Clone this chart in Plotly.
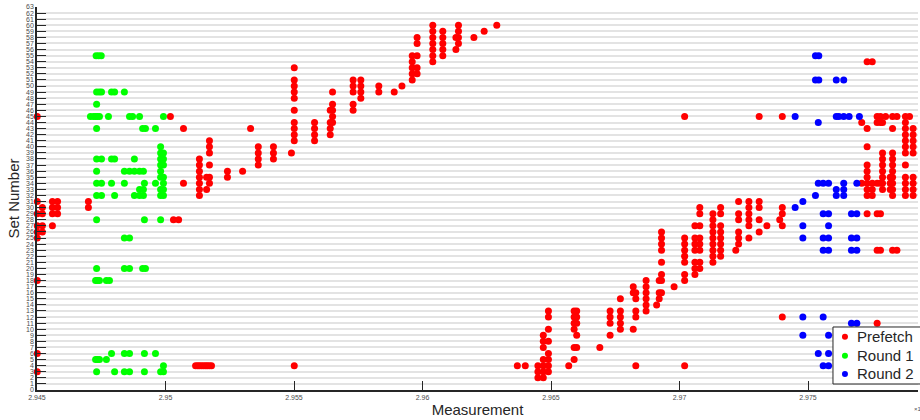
import plotly.graph_objects as go

# Prefetch hits: (measurement, [set numbers hit at that measurement])
prefetch_cols = [
    (2.94501, [45, 31, 29, 27, 26, 25, 18, 6, 3]),
    (2.94521, [30, 29, 27, 26]),
    (2.94560, [31, 30, 29, 27]),
    (2.94580, [31, 30, 29]),
    (2.94700, [31, 30]),
    (2.95019, [45]),
    (2.95031, [28]),
    (2.95051, [28]),
    (2.95070, [43, 34]),
    (2.95117, [4]),
    (2.95125, [4]),
    (2.95132, [38, 37, 36, 35, 34, 33, 32, 4]),
    (2.95140, [4]),
    (2.95148, [4]),
    (2.95156, [4]),
    (2.95160, [35, 33]),
    (2.95163, [4]),
    (2.95171, [41, 40, 39, 37, 35, 34, 4]),
    (2.95179, [4]),
    (2.95241, [36, 35]),
    (2.95300, [36]),
    (2.95331, [43]),
    (2.95361, [40, 39, 38, 37]),
    (2.95420, [40, 39, 38]),
    (2.95490, [39]),
    (2.95501, [53, 51, 50, 49, 48, 46, 44, 43, 42, 41, 4]),
    (2.95580, [44, 43, 42, 41]),
    (2.95641, [46, 44, 43, 42]),
    (2.95650, [49, 47, 46, 45, 44]),
    (2.95730, [51, 50, 49, 47, 46]),
    (2.95760, [51, 50, 49, 48]),
    (2.95830, [50, 49]),
    (2.95890, [49]),
    (2.95920, [50]),
    (2.95960, [55, 54, 53, 52, 51]),
    (2.95979, [58, 57, 55, 53, 52]),
    (2.96040, [60, 59, 58, 57, 56, 55, 54]),
    (2.96079, [59, 58, 57, 56, 55]),
    (2.96130, [58, 56]),
    (2.96140, [60, 59, 58, 57]),
    (2.96200, [58]),
    (2.96240, [59]),
    (2.96289, [60]),
    (2.96369, [4]),
    (2.96400, [4]),
    (2.96449, [4, 3, 2]),
    (2.96470, [9, 8, 7, 5, 4, 3, 2]),
    (2.96490, [13, 12, 10, 8, 6, 5, 4, 3]),
    (2.96569, [4]),
    (2.96590, [13, 12, 11, 10, 7, 5]),
    (2.96600, [13, 12, 11, 9, 7]),
    (2.96690, [7]),
    (2.96730, [13, 12, 11, 9]),
    (2.96770, [15, 13, 12, 11, 10]),
    (2.96820, [17, 16, 10]),
    (2.96830, [16, 15, 13, 12, 4]),
    (2.96870, [18, 17, 16, 15, 14, 13]),
    (2.96911, [14]),
    (2.96921, [18, 16, 15]),
    (2.96930, [26, 25, 24, 23, 21, 19, 18, 16]),
    (2.96979, [17]),
    (2.97020, [45, 25, 24, 23, 22, 21, 19, 18, 4]),
    (2.97060, [27, 25, 24, 23, 21, 20, 19]),
    (2.97079, [30, 29, 27, 25, 24, 23, 21, 20]),
    (2.97130, [29, 28, 27, 26, 25, 24, 23, 22, 21]),
    (2.97160, [30, 29, 27, 26, 25, 24, 23, 22]),
    (2.97219, [23]),
    (2.97230, [31, 29, 28, 26, 25, 24]),
    (2.97270, [31, 30, 29, 28, 27, 25]),
    (2.97310, [45, 31, 30, 28, 26]),
    (2.97340, [27]),
    (2.97390, [28]),
    (2.97400, [45, 30, 29, 27, 12]),
    (2.97709, [44, 34]),
    (2.97730, [54, 43, 40, 37, 36, 35, 34, 33, 32, 29]),
    (2.97750, [54, 34, 33, 32]),
    (2.97769, [45, 44, 34, 29, 23, 11]),
    (2.97782, [45, 44, 34, 29, 23]),
    (2.97790, [44, 39, 38, 37, 36, 35, 34, 33]),
    (2.97802, [45]),
    (2.97820, [35, 34, 33]),
    (2.97829, [45, 43, 39, 38, 37, 36, 35, 34, 33, 32, 23]),
    (2.97846, [45, 23]),
    (2.97879, [45, 44, 43, 42, 41, 40, 39, 37, 35, 34, 33, 32]),
    (2.97895, [45]),
    (2.97909, [43, 42, 41, 40, 39, 35, 34, 33, 32]),
]

# Round 1 hits: (set number, [measurements])
round1_rows = [
    (55, [2.94730, 2.94740, 2.94750]),
    (49, [2.94732, 2.94742, 2.94751, 2.94790, 2.94802, 2.94840]),
    (47, [2.94732]),
    (45, [2.94708, 2.94720, 2.94728, 2.94735, 2.94743, 2.94778, 2.94860,
          2.94872, 2.94899, 2.94992]),
    (43, [2.94732, 2.94911, 2.94922, 2.94961]),
    (40, [2.94981]),
    (39, [2.94981, 2.94992]),
    (38, [2.94732, 2.94751, 2.94790, 2.94802, 2.94879, 2.94981, 2.94992]),
    (37, [2.94981, 2.94992]),
    (36, [2.94732, 2.94840, 2.94860, 2.94879, 2.94899, 2.94914, 2.94981]),
    (35, [2.94981, 2.94992]),
    (34, [2.94732, 2.94751, 2.94790, 2.94840, 2.94918, 2.94961, 2.94992]),
    (33, [2.94899, 2.94914, 2.94981, 2.94992]),
    (32, [2.94732, 2.94751, 2.94802, 2.94879, 2.94899, 2.94914, 2.94981,
          2.94992]),
    (28, [2.94732, 2.94918, 2.94981]),
    (25, [2.94840, 2.94860]),
    (20, [2.94732, 2.94840, 2.94860, 2.94911, 2.94922]),
    (18, [2.94728, 2.94735, 2.94743, 2.94770, 2.94782]),
    (6, [2.94790, 2.94840, 2.94860, 2.94918, 2.94961]),
    (5, [2.94728, 2.94735, 2.94743, 2.94770]),
    (4, [2.94992]),
    (3, [2.94732, 2.94802, 2.94840, 2.94860, 2.94918, 2.94981, 2.94992]),
]

# Round 2 hits: (set number, [measurements])
round2_rows = [
    (55, [2.97529, 2.97542]),
    (51, [2.97529, 2.97542, 2.97610, 2.97639]),
    (45, [2.97450, 2.97610, 2.97620, 2.97639, 2.97660, 2.97700]),
    (44, [2.97540]),
    (34, [2.97540, 2.97559, 2.97580, 2.97639, 2.97690]),
    (33, [2.97610, 2.97639]),
    (32, [2.97529, 2.97610, 2.97639]),
    (31, [2.97480]),
    (30, [2.97450]),
    (29, [2.97559, 2.97580, 2.97669, 2.97690]),
    (27, [2.97480, 2.97580]),
    (25, [2.97480, 2.97559, 2.97580, 2.97669, 2.97690]),
    (23, [2.97559, 2.97580, 2.97669, 2.97690]),
    (12, [2.97480, 2.97559]),
    (11, [2.97669, 2.97690]),
    (9, [2.97480, 2.97580]),
    (6, [2.97540, 2.97580]),
    (4, [2.97559, 2.97580]),
]

series_names = ["Prefetch", "Round 1", "Round 2"]
series_colors = ["#ff0000", "#00ff00", "#0000ff"]

x_tick_vals = [2.945, 2.95, 2.955, 2.96, 2.965, 2.97, 2.975]
x_tick_labels = ["2.945", "2.95", "2.955", "2.96", "2.965", "2.97", "2.975"]
set_numbers = list(range(0, 64))

FONT = "Liberation Sans, Arial, Helvetica, sans-serif"
AXIS_COLOR = "#262626"


def from_columns(cols):
    xs, ys = [], []
    for m, sets in cols:
        for s in sets:
            xs.append(m)
            ys.append(s)
    return xs, ys


def from_rows(rows):
    xs, ys = [], []
    for s, ms in rows:
        for m in ms:
            xs.append(m)
            ys.append(s)
    return xs, ys


series_points = [from_columns(prefetch_cols), from_rows(round1_rows), from_rows(round2_rows)]

fig = go.Figure()
for name, color, (xs, ys) in zip(series_names, series_colors, series_points):
    fig.add_trace(go.Scatter(
        x=xs, y=ys, mode="markers", name=name, showlegend=False,
        marker=dict(color=color, size=7, line=dict(width=0)),
        cliponaxis=False,
    ))

# Compact boxed legend in the lower-right corner of the axes
shapes = [dict(type="rect", xref="paper", yref="paper",
               x0=0.9035, x1=1.01, y0=0.0157, y1=0.1645,
               fillcolor="white", line=dict(color=AXIS_COLOR, width=1), layer="above")]
annotations = []
legend_rows_y = [0.1392, 0.0896, 0.0418]
for name, color, ly in zip(series_names, series_colors, legend_rows_y):
    shapes.append(dict(type="circle", xref="paper", yref="paper",
                       xsizemode="pixel", ysizemode="pixel",
                       xanchor=0.9171, yanchor=ly, x0=-3, x1=3, y0=-3, y1=3,
                       fillcolor=color, line=dict(width=0), layer="above"))
    annotations.append(dict(text=name, xref="paper", yref="paper",
                            x=0.9290, y=ly, xanchor="left", yanchor="middle",
                            showarrow=False,
                            font=dict(size=15, color=AXIS_COLOR, family=FONT)))

annotations.append(dict(text="\u00d710<sup>9</sup>", xref="paper", yref="paper",
                        x=0.9932, y=-0.047, xanchor="left", yanchor="middle",
                        showarrow=False, font=dict(size=6, color="#4d4d4d")))

fig.update_layout(
    width=920, height=420,
    margin=dict(l=37, r=2, t=7, b=30),
    paper_bgcolor="white", plot_bgcolor="white",
    font=dict(family=FONT, color=AXIS_COLOR),
    showlegend=False,
    xaxis=dict(
        range=[2.945, 2.97928], autorange=False,
        tickmode="array", tickvals=x_tick_vals, ticktext=x_tick_labels,
        ticks="inside", ticklen=9, tickwidth=1, tickcolor=AXIS_COLOR,
        tickfont=dict(size=7, color="#4d4d4d"),
        showline=True, linecolor=AXIS_COLOR, linewidth=1.5,
        showgrid=False, zeroline=False,
        title=dict(text="Measurement", font=dict(size=15, color=AXIS_COLOR), standoff=4),
        automargin=False,
    ),
    yaxis=dict(
        range=[0, 63], autorange=False,
        tickmode="array", tickvals=set_numbers, ticktext=[str(v) for v in set_numbers],
        ticks="inside", ticklen=9, tickwidth=1.2, tickcolor=AXIS_COLOR,
        tickfont=dict(size=7, color="#4d4d4d"),
        showline=True, linecolor=AXIS_COLOR, linewidth=1.5,
        showgrid=True, gridcolor="#e3e3e3", gridwidth=1.5,
        zeroline=False,
        title=dict(text="Set Number", font=dict(size=15, color=AXIS_COLOR), standoff=3),
        automargin=False,
    ),
    shapes=shapes,
    annotations=annotations,
)

fig.write_html("out.html")
